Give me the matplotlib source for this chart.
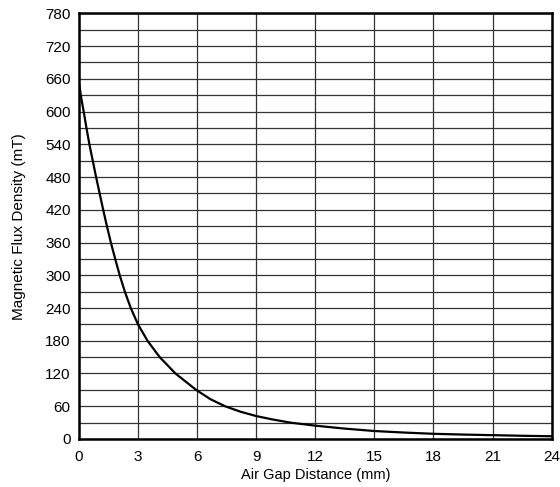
import numpy as np
import matplotlib
matplotlib.use('Agg')
import matplotlib.pyplot as plt

plt.rcParams['font.family'] = ['Liberation Sans', 'DejaVu Sans']

# Values
gap_mm = [0.02, 0.12, 0.24, 0.38, 0.53, 0.7, 0.87, 1.05, 1.23, 1.42, 1.62,
          1.84, 2.07, 2.33, 2.63, 3.0, 3.48, 4.1, 4.9, 5.95, 6.67, 7.42,
          8.2, 9, 9.8, 10.73, 12, 13.5, 15, 16.5, 18, 19.5, 21, 22.5, 24]
flux_mT = [648, 624, 600, 570, 540, 510, 480, 450, 420, 390, 360,
           330, 300, 270, 240, 210, 180, 150, 120, 90, 73, 60,
           50, 42, 36, 30, 24.4, 19, 14.6, 11.8, 9.5, 8.1, 7, 5.9, 5]

x_ticks = [0, 3, 6, 9, 12, 15, 18, 21, 24]
y_ticks = list(range(0, 781, 60))

fig = plt.figure(figsize=(5.6, 4.87), dpi=100)
ax = fig.add_axes([0.141, 0.0986, 0.844, 0.874])

ax.plot(gap_mm, flux_mT, color='black', linewidth=1.6, zorder=3,
        solid_joinstyle='round')

ax.set_xlim(0, 24)
ax.set_ylim(0, 780)
ax.set_xticks(x_ticks)
ax.set_yticks(y_ticks)
ax.set_yticks(np.arange(30, 780, 60), minor=True)
ax.tick_params(which='both', length=0, labelsize=11)
ax.tick_params(axis='y', pad=6)
ax.tick_params(axis='x', pad=8)
ax.grid(True, which='major', color='#333333', linewidth=0.9)
ax.grid(True, which='minor', axis='y', color='#333333', linewidth=0.9)

for s in ax.spines.values():
    s.set_linewidth(1.8)
    s.set_zorder(4)

ax.set_xlabel('Air Gap Distance (mm)', fontsize=10.5, labelpad=3)
ax.set_ylabel('Magnetic Flux Density (mT)', fontsize=11, labelpad=14)

plt.savefig('out.png', dpi=100)
